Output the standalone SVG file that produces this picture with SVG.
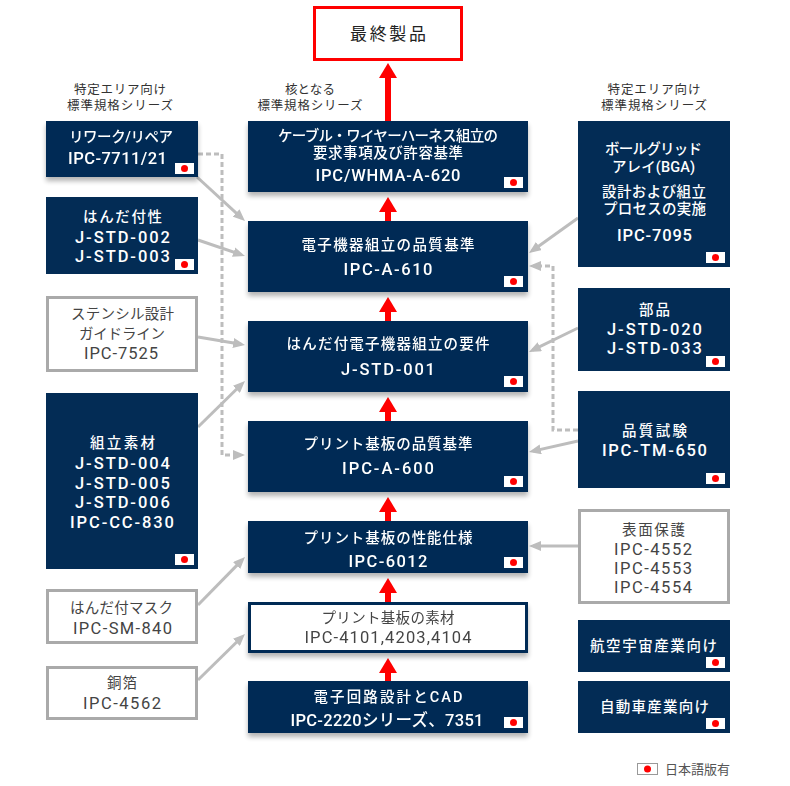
<svg xmlns="http://www.w3.org/2000/svg" width="790" height="786" viewBox="0 0 790 786">
<defs>
<style>
text{font-family:Roboto,"Noto Sans CJK JP","Noto Sans CJK SC",sans-serif;text-anchor:middle}
.nv{fill:#032c55}
.wb{fill:#fff;stroke:#aaaaaa;stroke-width:3}
.wn{fill:#fff;stroke:#032c55;stroke-width:3}
.j{font-size:14.5px;font-weight:500;fill:#fff}
.l{font-size:16.5px;font-weight:500;fill:#fff}
.jg{font-size:14.5px;font-weight:400;fill:#444}
.lg{font-size:16.5px;font-weight:400;fill:#444}
.h{font-size:12.5px;fill:#333}
.con{fill:none;stroke:#bdbdbd;stroke-width:3}
.dash{stroke-dasharray:5 3}
.red{fill:none;stroke:#ff0000;stroke-width:6}
.fw{fill:#fff}
.fr{fill:#ff0000}
</style>
<marker id="ga" viewBox="0 0 12 10" refX="8" refY="5" markerWidth="12" markerHeight="10" markerUnits="userSpaceOnUse" orient="auto"><path d="M0,0 L12,5 L0,10 z" fill="#bdbdbd"/></marker>
<marker id="ra" viewBox="0 0 15 18" refX="1" refY="9" markerWidth="15" markerHeight="18" markerUnits="userSpaceOnUse" orient="auto"><path d="M0,0 L15,9 L0,18 z" fill="#ff0000"/></marker>
<filter id="sh" x="-5%" y="-10%" width="110%" height="140%">
<feGaussianBlur in="SourceAlpha" stdDeviation="2.5"/>
<feOffset dy="4" result="b"/>
<feComponentTransfer><feFuncA type="linear" slope="0.3"/></feComponentTransfer>
<feMerge><feMergeNode/><feMergeNode in="SourceGraphic"/></feMerge>
</filter>
<g id="flag"><rect width="19" height="11" class="fw"/><circle cx="9.5" cy="5.5" r="3.5" class="fr"/></g>
</defs>
<rect width="790" height="786" fill="#fff"/>

<g id="headers">
<text class="h" x="120" y="93.5" textLength="92">特定エリア向け</text>
<text class="h" x="120" y="109.5" textLength="106">標準規格シリーズ</text>
<text class="h" x="310" y="93.5" textLength="50">核となる</text>
<text class="h" x="310" y="109.5" textLength="105">標準規格シリーズ</text>
<text class="h" x="654" y="94" textLength="93">特定エリア向け</text>
<text class="h" x="654" y="110" textLength="106">標準規格シリーズ</text>
</g>

<g id="connectors">
<path class="con" d="M197,177 L242,218.3" marker-end="url(#ga)"/>
<path class="con" d="M198,240 L241.2,254.7" marker-end="url(#ga)"/>
<path class="con" d="M198,337 L241.1,344.3" marker-end="url(#ga)"/>
<path class="con" d="M198,427 L242.1,383.8" marker-end="url(#ga)"/>
<path class="con" d="M198,605 L242.2,559.9" marker-end="url(#ga)"/>
<path class="con" d="M198,680 L242.1,636.8" marker-end="url(#ga)"/>
<path class="con dash" d="M198,154 H222 V455 H241" marker-end="url(#ga)"/>
<path class="con" d="M578,218 L532.3,250.7" marker-end="url(#ga)"/>
<path class="con dash" d="M578,430 H553 V266 H533" marker-end="url(#ga)"/>
<path class="con" d="M578,328 L532.6,350.2" marker-end="url(#ga)"/>
<path class="con" d="M578,441 L532.9,451.1" marker-end="url(#ga)"/>
<path class="con" d="M578,546 H533" marker-end="url(#ga)"/>
<path class="red" d="M388,121 V77" marker-end="url(#ra)"/>
<path class="red" d="M388,221 V211" marker-end="url(#ra)"/>
<path class="red" d="M388,321 V311" marker-end="url(#ra)"/>
<path class="red" d="M388,421 V411" marker-end="url(#ra)"/>
<path class="red" d="M388,521 V511" marker-end="url(#ra)"/>
<path class="red" d="M388,602 V592" marker-end="url(#ra)"/>
<path class="red" d="M388,681 V672" marker-end="url(#ra)"/>
</g>

<g id="final">
<rect x="314.5" y="7.5" width="147" height="52" fill="#fff" stroke="#ff0000" stroke-width="3"/>
<text x="388" y="40" style="font-size:17px;fill:#222" textLength="76">最終製品</text>
</g>

<g id="c1" filter="url(#sh)">
<rect class="nv" x="248" y="121" width="280" height="71"/>
<text class="j" x="388" y="141" textLength="220">ケーブル・ワイヤーハーネス組立の</text>
<text class="j" x="388" y="158" textLength="150">要求事項及び許容基準</text>
<text class="l" x="388" y="181" textLength="145">IPC/WHMA-A-620</text>
<use href="#flag" x="504" y="177"/>
</g>
<g id="c2" filter="url(#sh)">
<rect class="nv" x="248" y="221" width="280" height="71"/>
<text class="j" x="388" y="250" textLength="173">電子機器組立の品質基準</text>
<text class="l" x="388" y="275" textLength="89">IPC-A-610</text>
<use href="#flag" x="504" y="276"/>
</g>
<g id="c3" filter="url(#sh)">
<rect class="nv" x="248" y="321" width="280" height="71"/>
<text class="j" x="388" y="349" textLength="203">はんだ付電子機器組立の要件</text>
<text class="l" x="388" y="375" textLength="94">J-STD-001</text>
<use href="#flag" x="504" y="376"/>
</g>
<g id="c4" filter="url(#sh)">
<rect class="nv" x="248" y="421" width="280" height="71"/>
<text class="j" x="388" y="449" textLength="169">プリント基板の品質基準</text>
<text class="l" x="388" y="474" textLength="92">IPC-A-600</text>
<use href="#flag" x="504" y="476"/>
</g>
<g id="c5" filter="url(#sh)">
<rect class="nv" x="248" y="521" width="280" height="52"/>
<text class="j" x="388" y="543" textLength="169">プリント基板の性能仕様</text>
<text class="l" x="388" y="567" textLength="79">IPC-6012</text>
<use href="#flag" x="504" y="557"/>
</g>
<g id="c6" filter="url(#sh)">
<rect class="wn" x="249.5" y="603.5" width="277" height="48"/>
<text class="jg" x="388" y="623" textLength="133">プリント基板の素材</text>
<text class="lg" x="388" y="643" textLength="167">IPC-4101,4203,4104</text>
</g>
<g id="c7" filter="url(#sh)">
<rect class="nv" x="248" y="681" width="280" height="52"/>
<text class="j" x="388" y="702" textLength="149">電子回路設計とCAD</text>
<text class="l" x="387" y="726" textLength="193">IPC-2220シリーズ、7351</text>
<use href="#flag" x="504" y="717"/>
</g>

<g id="l1" filter="url(#sh)">
<rect class="nv" x="46" y="121" width="152" height="56"/>
<text class="j" x="121" y="142" textLength="104">リワーク/リペア</text>
<text class="l" x="117.5" y="164" textLength="99">IPC-7711/21</text>
<use href="#flag" x="175" y="163"/>
</g>
<g id="l2">
<rect class="nv" x="46" y="197" width="152" height="77"/>
<text class="j" x="122.5" y="222" textLength="79">はんだ付性</text>
<text class="l" x="122.5" y="243" textLength="95">J-STD-002</text>
<text class="l" x="122.5" y="262" textLength="95">J-STD-003</text>
<use href="#flag" x="175" y="259"/>
</g>
<g id="l3">
<rect class="wb" x="47.5" y="297.5" width="149" height="73"/>
<text class="jg" x="122.5" y="319" textLength="103">ステンシル設計</text>
<text class="jg" x="122" y="339" textLength="86">ガイドライン</text>
<text class="lg" x="121" y="359" textLength="74">IPC-7525</text>
</g>
<g id="l4">
<rect class="nv" x="46" y="393" width="152" height="176"/>
<text class="j" x="122.5" y="448" textLength="65">組立素材</text>
<text class="l" x="122.5" y="469" textLength="95">J-STD-004</text>
<text class="l" x="122.5" y="489" textLength="95">J-STD-005</text>
<text class="l" x="122.5" y="508" textLength="95">J-STD-006</text>
<text class="l" x="122" y="528" textLength="104">IPC-CC-830</text>
<use href="#flag" x="175" y="554"/>
</g>
<g id="l5">
<rect class="wb" x="47.5" y="590.5" width="149" height="52"/>
<text class="jg" x="121.5" y="613" textLength="103">はんだ付マスク</text>
<text class="lg" x="122.5" y="634" textLength="99">IPC-SM-840</text>
</g>
<g id="l6">
<rect class="wb" x="47.5" y="667.5" width="149" height="51"/>
<text class="jg" x="122" y="688" textLength="30">銅箔</text>
<text class="lg" x="122" y="709" textLength="78">IPC-4562</text>
</g>

<g id="r1">
<rect class="nv" x="578" y="121" width="152" height="146"/>
<text class="j" x="653.5" y="154" textLength="97">ボールグリッド</text>
<text class="j" x="653.5" y="172" textLength="83">アレイ(BGA)</text>
<text class="j" x="654" y="197" textLength="104">設計および組立</text>
<text class="j" x="654.5" y="214" textLength="103">プロセスの実施</text>
<text class="l" x="654.5" y="241" textLength="75">IPC-7095</text>
<use href="#flag" x="706" y="252"/>
</g>
<g id="r2">
<rect class="nv" x="578" y="288" width="152" height="83"/>
<text class="j" x="654.5" y="315" textLength="31">部品</text>
<text class="l" x="654.5" y="335" textLength="95">J-STD-020</text>
<text class="l" x="654.5" y="354" textLength="95">J-STD-033</text>
<use href="#flag" x="706" y="356"/>
</g>
<g id="r3">
<rect class="nv" x="578" y="391" width="152" height="97"/>
<text class="j" x="654.5" y="436" textLength="65">品質試験</text>
<text class="l" x="654.5" y="456" textLength="105">IPC-TM-650</text>
<use href="#flag" x="706" y="473"/>
</g>
<g id="r4">
<rect class="wb" x="579.5" y="510.5" width="149" height="92"/>
<text class="jg" x="653.5" y="535" textLength="63">表面保護</text>
<text class="lg" x="653" y="555" textLength="78">IPC-4552</text>
<text class="lg" x="653" y="574" textLength="78">IPC-4553</text>
<text class="lg" x="653" y="593" textLength="78">IPC-4554</text>
</g>
<g id="r5">
<rect class="nv" x="578" y="620" width="152" height="52"/>
<text class="j" x="653.5" y="651" textLength="127">航空宇宙産業向け</text>
<use href="#flag" x="706" y="657"/>
</g>
<g id="r6">
<rect class="nv" x="578" y="681" width="152" height="52"/>
<text class="j" x="654.5" y="712" textLength="109">自動車産業向け</text>
<use href="#flag" x="706" y="718"/>
</g>

<g id="legend">
<rect x="637.5" y="763.5" width="20" height="11" fill="#fff" stroke="#999" stroke-width="1"/>
<circle cx="647.5" cy="769" r="3.5" class="fr"/>
<text x="665" y="774" style="font-size:13px;fill:#555;text-anchor:start" textLength="65">日本語版有</text>
</g>
</svg>
